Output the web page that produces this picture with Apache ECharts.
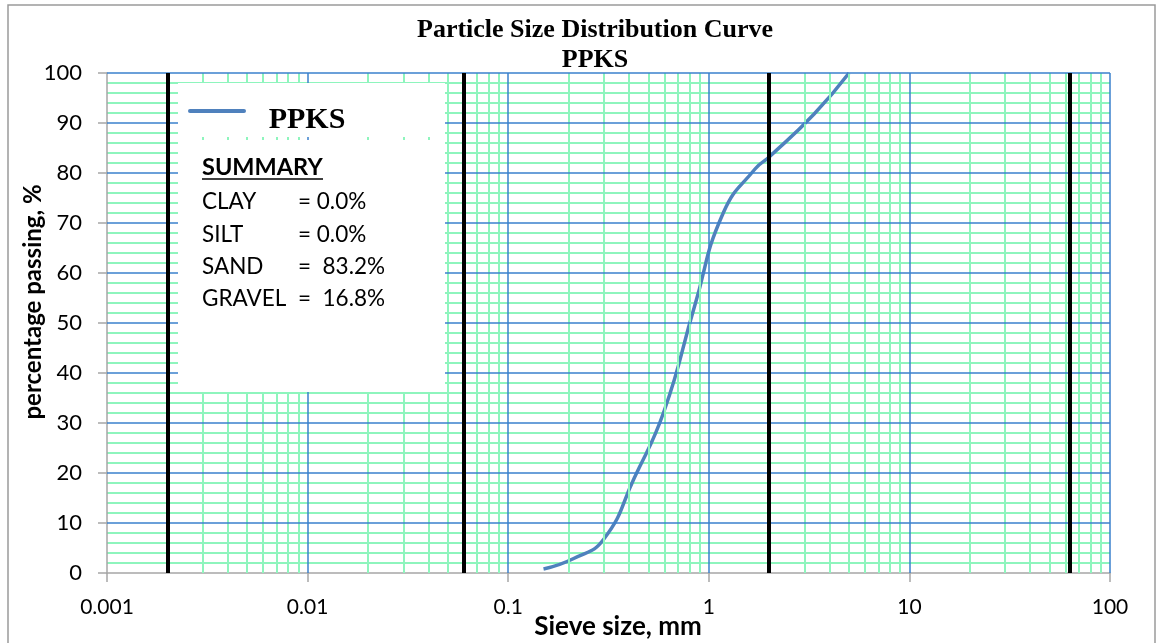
<!DOCTYPE html>
<html>
<head>
<meta charset="utf-8">
<script src="https://cdn.jsdelivr.net/npm/echarts@6/dist/echarts.min.js"></script>
<style>
  html, body { margin: 0; padding: 0; background: #fff; }
  #chart { width: 1157px; height: 643px; }
</style>
</head>
<body>
<div id="chart"></div>
<script>
// sieve analysis - PPKS
const sieveSizes = [0.15, 0.212, 0.3, 0.425, 0.6, 0.85, 1.18, 1.7, 2.0, 3.35, 5.0];
const percentPassing = [0.8, 2.9, 6.8, 19, 32.5, 53.4, 72, 80.8, 83.2, 91.8, 100];

// clay / silt / sand / gravel / cobble boundaries (mm)
const boundarySizes = [0.002, 0.06, 2, 63];

const decades = [0.001, 0.01, 0.1, 1, 10];
const minorMultipliers = [2, 3, 4, 5, 6, 7, 8, 9];
const majorSizes = [0.01, 0.1, 1, 10, 100];
const yMajor = [10, 20, 30, 40, 50, 60, 70, 80, 90, 100];

const summaryLabels = ["CLAY", "SILT", "SAND", "GRAVEL"];
const summaryValues = ["= 0.0%", "= 0.0%", "=  83.2%", "=  16.8%"];

const GREEN = "#8ef5bd";
const BLUE = "#3a80cc";
const AXIS_GREY = "#a6a6a6";

let minorX = [];
decades.forEach(d => {
  minorMultipliers.forEach(m => minorX.push({ xAxis: +(d * m).toPrecision(3) }));
});

function lines(data, color, width) {
  return {
    symbol: ["none", "none"],
    silent: true,
    animation: false,
    precision: 6,
    label: { show: false },
    lineStyle: { color: color, width: width, type: "solid" },
    emphasis: { disabled: true },
    data: data,
  };
}

let chart = echarts.init(document.getElementById("chart"));

// summary text rows
let summaryText = [];
summaryLabels.forEach((lab, i) => {
  summaryText.push({
    type: "text", z: 110, x: 202, y: 202 + i * 32.4,
    style: { text: lab, font: "22.5px Lato", fill: "#000", verticalAlign: "middle" },
  });
  summaryText.push({
    type: "text", z: 110, x: 298, y: 202 + i * 32.4,
    style: { text: summaryValues[i], font: "22.5px Lato", fill: "#000", verticalAlign: "middle" },
  });
});

let option = {
  animation: false,
  grid: { left: 107, right: 47, top: 73, bottom: 70 },
  xAxis: {
    type: "log",
    logBase: 10,
    min: 0.001,
    max: 100,
    axisLine: { lineStyle: { color: AXIS_GREY, width: 1.5 } },
    axisTick: { show: true, inside: false, length: 9, lineStyle: { color: AXIS_GREY, width: 1.5 } },
    axisLabel: {
      color: "#000", fontFamily: "Lato", fontSize: 21, margin: 24,
      formatter: v => String(+v.toPrecision(3)),
    },
    splitLine: { show: false },
  },
  yAxis: {
    type: "value",
    min: 0,
    max: 100,
    interval: 10,
    axisLine: { show: true, lineStyle: { color: AXIS_GREY, width: 1.5 } },
    axisTick: { show: true, inside: false, length: 9, lineStyle: { color: AXIS_GREY, width: 1.5 } },
    axisLabel: { color: "#000", fontFamily: "Lato", fontSize: 22, margin: 25 },
    splitLine: { show: false },
    minorTick: { show: false, splitNumber: 5 },
    minorSplitLine: { show: true, lineStyle: { color: GREEN, width: 2 } },
  },
  series: [
    {
      name: "minor",
      type: "line",
      data: [],
      z: 1,
      markLine: lines(minorX, GREEN, 2),
    },
    {
      name: "major",
      type: "line",
      data: [],
      z: 2,
      markLine: lines(
        majorSizes.map(v => ({ xAxis: v })).concat(yMajor.map(v => ({ yAxis: v }))),
        BLUE, 1.5
      ),
    },
    {
      name: "bounds",
      type: "line",
      data: [],
      z: 3,
      markLine: lines(boundarySizes.map(v => ({ xAxis: v })), "#000", 4),
    },
    {
      name: "PPKS",
      type: "line",
      z: 4,
      smooth: 0.5,
      symbol: "none",
      lineStyle: { color: "#4f81bd", width: 3.5 },
      data: sieveSizes.map((s, i) => [s, percentPassing[i]]),
    },
  ],
  graphic: [
    {
      type: "rect", z: 120, silent: true,
      shape: { x: 8, y: 5, width: 1147, height: 660 },
      style: { fill: "none", stroke: "#9a9a9a", lineWidth: 1.5 },
    },
    {
      type: "text", z: 110, x: 595, y: 30,
      style: {
        text: "Particle Size Distribution Curve", font: "bold 26px 'Liberation Serif'",
        fill: "#000", align: "center", verticalAlign: "middle",
      },
    },
    {
      type: "text", z: 110, x: 595, y: 60,
      style: {
        text: "PPKS", font: "bold 26px 'Liberation Serif'",
        fill: "#000", align: "center", verticalAlign: "middle",
      },
    },
    // white boxes (legend and summary)
    {
      type: "rect", z: 100, silent: true,
      shape: { x: 178, y: 83, width: 267, height: 54 },
      style: { fill: "#fff" },
    },
    {
      type: "rect", z: 100, silent: true,
      shape: { x: 178, y: 140, width: 267, height: 252 },
      style: { fill: "#fff" },
    },
    {
      type: "line", z: 110, silent: true,
      shape: { x1: 190, y1: 111, x2: 244, y2: 111 },
      style: { stroke: "#4f81bd", lineWidth: 4, lineCap: "round" },
    },
    {
      type: "text", z: 110, x: 307, y: 120,
      style: {
        text: "PPKS", font: "bold 30px 'Liberation Serif'",
        fill: "#000", align: "center", verticalAlign: "middle",
      },
    },
    {
      type: "text", z: 110, x: 202, y: 167,
      style: { text: "SUMMARY", font: "bold 23.5px Lato", fill: "#000", verticalAlign: "middle" },
    },
    {
      type: "line", z: 110, silent: true,
      shape: { x1: 202, y1: 179, x2: 323, y2: 179 },
      style: { stroke: "#000", lineWidth: 1.5 },
    },
    ...summaryText,
    // axis titles
    {
      type: "text", z: 110, x: 33, y: 302, rotation: Math.PI / 2,
      style: {
        text: "percentage passing, %", font: "bold 24px Lato",
        fill: "#000", align: "center", verticalAlign: "middle",
      },
    },
    {
      type: "text", z: 110, x: 618, y: 627,
      style: {
        text: "Sieve size, mm", font: "bold 26px Lato",
        fill: "#000", align: "center", verticalAlign: "middle",
      },
    },
  ],
};

chart.setOption(option);
</script>
</body>
</html>
